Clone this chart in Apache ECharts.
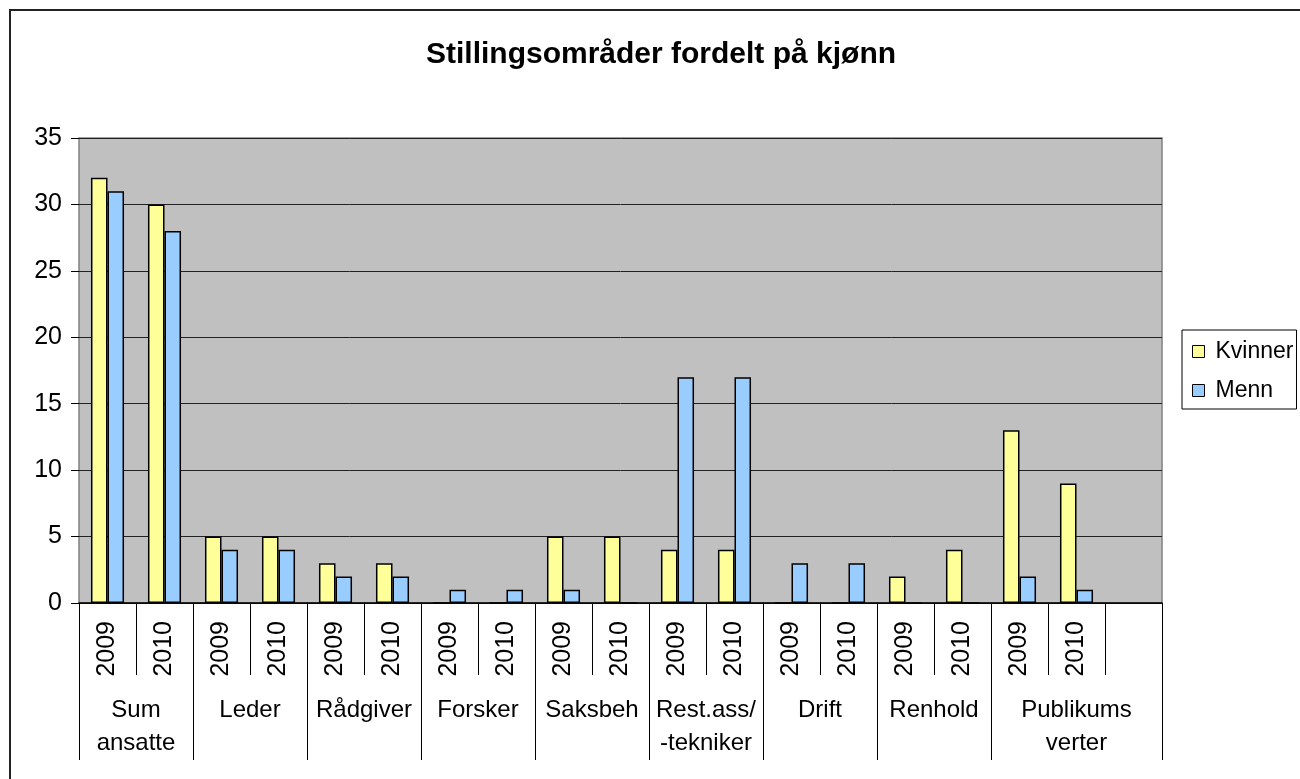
<!DOCTYPE html>
<html>
<head>
<meta charset="utf-8">
<title>Stillingsområder fordelt på kjønn</title>
<script src="https://cdn.jsdelivr.net/npm/echarts@6/dist/echarts.min.js"></script>
<style>
	html, body { margin: 0; padding: 0; background: #fff; }
	#main { width: 1300px; height: 779px; }
</style>
</head>
<body>
<div id="main"></div>
<script>
// årstall under hver stolpe-gruppe (siste plass er tom)
var years = ['2009', '2010', '2009', '2010', '2009', '2010', '2009', '2010', '2009', '2010',
	'2009', '2010', '2009', '2010', '2009', '2010', '2009', '2010', ''];
// stillingsområder, hvert dekker to år (det siste tar også med den tomme plassen)
var groups = ['Sum\nansatte', 'Leder', 'Rådgiver', 'Forsker', 'Saksbeh',
	'Rest.ass/\n-tekniker', 'Drift', 'Renhold', 'Publikums\nverter'];
var kvinner = [32, 30, 5, 5, 3, 3, 0, 0, 5, 5, 4, 4, 0, 0, 2, 4, 13, 9];
var menn = [31, 28, 4, 4, 2, 2, 1, 1, 1, 0, 17, 17, 3, 3, 0, 0, 2, 1];
var yTicks = [0, 5, 10, 15, 20, 25, 30, 35];

var FONT = '"Liberation Sans", Arial, sans-serif';

function f_initChart(){
	var myChart = echarts.init(document.getElementById('main'));

	// grenser og midtpunkt for hver gruppe på den nedre aksen
	var groupTicks = [];
	var groupLabels = [];
	var labelIndex = {};
	for (var i = 0; i < groups.length; i++) {
		var start = i * 2;
		var end = (i == groups.length - 1) ? years.length : start + 2;
		groupTicks.push(start);
		groupLabels.push((start + end) / 2);
		labelIndex[(start + end) / 2] = i;
	}
	groupTicks.push(years.length);

	var option = {
		backgroundColor: '#fff',
		animation: false,
		title: {
			text: 'Stillingsområder fordelt på kjønn',
			left: 656,
			top: 35,
			textAlign: 'center',
			textStyle: { fontFamily: FONT, fontSize: 30, fontWeight: 'bold', color: '#000', letterSpacing: -0.4 }
		},
		legend: {
			orient: 'vertical',
			left: 1182,
			top: 330,
			padding: [10, 3, 7, 10],
			itemGap: 16,
			itemWidth: 12,
			itemHeight: 12,
			icon: 'rect',
			borderColor: '#000',
			borderWidth: 1,
			itemStyle: { borderColor: '#000', borderWidth: 1 },
			textStyle: { fontFamily: FONT, fontSize: 23, color: '#000', padding: [0, 0, 0, 6] },
			data: ['Kvinner', 'Menn']
		},
		grid: {
			left: 79,
			right: 138,
			top: 138,
			bottom: 176,
			show: true,
			backgroundColor: '#C0C0C0',
			borderColor: '#808080',
			borderWidth: 1.5
		},
		xAxis: [
			{
				type: 'category',
				data: years,
				axisLine: { lineStyle: { color: '#000', width: 1.5 } },
				axisTick: { show: true, length: 72, interval: 0, lineStyle: { color: '#000', width: 1 } },
				axisLabel: {
					interval: 0,
					rotate: 90,
					margin: 18,
					fontFamily: FONT,
					fontSize: 25,
					color: '#000'
				},
				splitLine: { show: false }
			},
			{
				type: 'value',
				position: 'bottom',
				min: 0,
				max: years.length,
				axisLine: { show: false },
				axisTick: {
					show: true,
					length: 157,
					customValues: groupTicks,
					lineStyle: { color: '#000' }
				},
				axisLabel: {
					margin: 91,
					customValues: groupLabels,
					fontFamily: FONT,
					fontSize: 24,
					lineHeight: 33,
					color: '#000',
					formatter: function (v) {
						var idx = labelIndex[v];
						return idx === undefined ? '' : groups[idx];
					}
				},
				splitLine: { show: false }
			}
		],
		yAxis: {
			type: 'value',
			min: 0,
			max: 35,
			interval: 5,
			axisLine: { show: false },
			axisTick: { show: true, length: 8, lineStyle: { color: '#000' } },
			axisLabel: {
				margin: 17,
				fontFamily: FONT,
				fontSize: 25,
				color: '#000',
				formatter: function (v) { return yTicks.indexOf(v) >= 0 ? String(v) : ''; }
			},
			splitLine: { lineStyle: { color: '#222', width: 1 } }
		},
		series: [
			{
				name: 'Kvinner',
				type: 'bar',
				xAxisIndex: 0,
				barGap: '0%',
				barCategoryGap: '42%',
				itemStyle: { color: '#FFFF99', borderColor: '#000', borderWidth: 1.5 },
				data: kvinner
			},
			{
				name: 'Menn',
				type: 'bar',
				xAxisIndex: 0,
				barGap: '0%',
				barCategoryGap: '42%',
				itemStyle: { color: '#99CCFF', borderColor: '#000', borderWidth: 1.5 },
				data: menn
			}
		],
		graphic: [
			{
				// ytre ramme rundt hele diagrammet
				type: 'rect',
				silent: true,
				shape: { x: 10, y: 10, width: 1300, height: 800 },
				style: { fill: null, stroke: '#222', lineWidth: 2 }
			}
		]
	};

	myChart.setOption(option);
}

f_initChart();
</script>
</body>
</html>
